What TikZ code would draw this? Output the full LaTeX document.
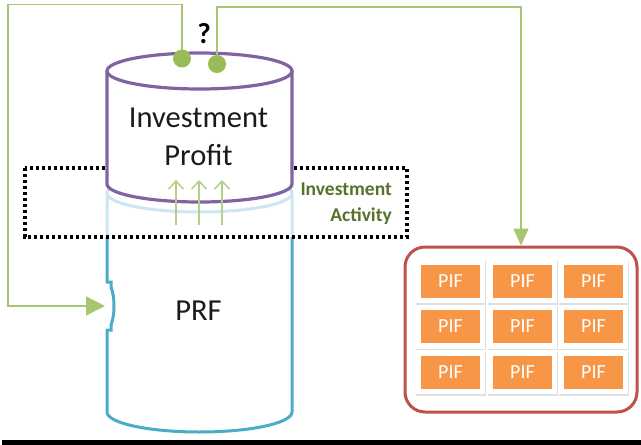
\documentclass[tikz,border=0pt]{standalone}
\usepackage{fontspec}
\setmainfont{Carlito}
\usetikzlibrary{arrows.meta,shadows}
\definecolor{cpurple}{HTML}{8064A2}
\definecolor{cblue}{HTML}{4BACC6}
\definecolor{cgreen}{HTML}{9BBB59}
\definecolor{cgline}{HTML}{A6C672}
\definecolor{cgup}{HTML}{B3CF8A}
\definecolor{cgtext}{HTML}{56722B}
\definecolor{cred}{HTML}{C0504D}
\definecolor{corange}{HTML}{F79646}
\definecolor{ctext}{HTML}{1A1A1A}
\begin{document}
\begin{tikzpicture}[x=1pt,y=-1pt,
  prfline/.style={draw=cblue,line width=3pt},
  pcyl/.style={draw=cpurple,fill=white,line width=3.2pt},
  dotbox/.style={draw=black,line width=3.2pt,dash pattern=on 3.2pt off 2.8pt,fill=white,fill opacity=0.72},
  gline/.style={draw=cgline,line width=1.3pt},
  gtip/.style={-{Triangle[length=19pt,width=19pt]},shorten >=0pt},
  uparrow/.style={draw=cgup,line width=1.5pt,-{Straight Barb[length=8pt,width=15pt,line width=1.5pt]}},
  gdot/.style={circle,fill=cgreen,minimum size=18pt,inner sep=0pt},
  bigtxt/.style={font=\fontsize{30.5}{35}\selectfont,text=ctext,inner sep=0pt},
  iatxt/.style={font=\fontsize{19.5}{24}\selectfont\bfseries,text=cgtext,inner sep=0pt},
  redbox/.style={draw=cred,line width=3pt,fill=white,rounded corners=20pt,minimum width=232pt,minimum height=165pt},
  card/.style={fill=white,minimum width=70pt,minimum height=44pt,inner sep=0pt,drop shadow={shadow xshift=0.8pt,shadow yshift=-1.8pt,opacity=0.25,fill=black!50}},
  pif/.style={fill=corange,minimum width=59pt,minimum height=33pt,inner sep=0pt,text=white,font=\fontsize{20}{22}\selectfont}]
\useasboundingbox (0,0) rectangle (641,445);

% connector geometry
\coordinate (c1) at (8,4.5);
\coordinate (inlet) at (105,306);
\coordinate (c2) at (521,7);

% PRF cylinder
\path[fill=white] (107,193) -- (107,412) arc[start angle=180,end angle=0,x radius=92.5,y radius=20] -- (292,193) -- cycle;
\draw[prfline] (107,193) -- (107,282) -- (111,282) -- (111,287) .. controls (115,297) and (115,315) .. (111,325) -- (111,330) -- (107,330) -- (107,412)
   arc[start angle=180,end angle=0,x radius=92.5,y radius=20] -- (292,193);
\draw[prfline] (199.5,193) ellipse[x radius=92.5,y radius=19];
\node[bigtxt,anchor=base] (prf) at (198.5,320.5) {PRF};

% dotted investment activity box
\draw[dotbox] (25,168) rectangle (407,237);
\node[iatxt,anchor=base east] (ia1) at (392,195) {Investment};
\node[iatxt,anchor=base east] (ia2) at (392,221.5) {Activity};

% Investment profit cylinder
\path[pcyl] (107,71) -- (107,184) arc[start angle=180,end angle=0,x radius=92.5,y radius=18] -- (292,71);
\path[pcyl] (199.5,71) ellipse[x radius=92.5,y radius=18];
\node[bigtxt,anchor=base] (ip1) at (198.5,127) {Investment};
\node[bigtxt,anchor=base] (ip2) at (198.5,165) {Profit};

% up arrows
\foreach \x in {176,199,222} \draw[uparrow] (\x,225) -- (\x,180);

% PIF box
\node[redbox] (pifbox) at (521,329.5) {};
\foreach \cx [count=\i] in {450,522,593}
  \foreach \cy [count=\j] in {281,326.5,372} {
    \node[card] (card-\j-\i) at (\cx,\cy) {};
    \node[pif] (pif-\j-\i) at (\cx+0.5,\cy) {PIF};
  }

% connectors
\draw[gline,gtip] (182,58.5) |- (c1) |- (inlet);
\draw[gline,-{Triangle[length=17pt,width=15pt]}] (217,64) |- (c2) -- (pifbox.north);
\node[gdot] (d1) at (182,58.5) {};
\node[gdot] (d2) at (217,64) {};
\node[font=\fontsize{29}{32}\selectfont\bfseries,text=black,inner sep=0pt,anchor=base] (q) at (204,43) {?};

% bottom bar
\fill[black] (2,440) rectangle (641,445);
\end{tikzpicture}
\end{document}
